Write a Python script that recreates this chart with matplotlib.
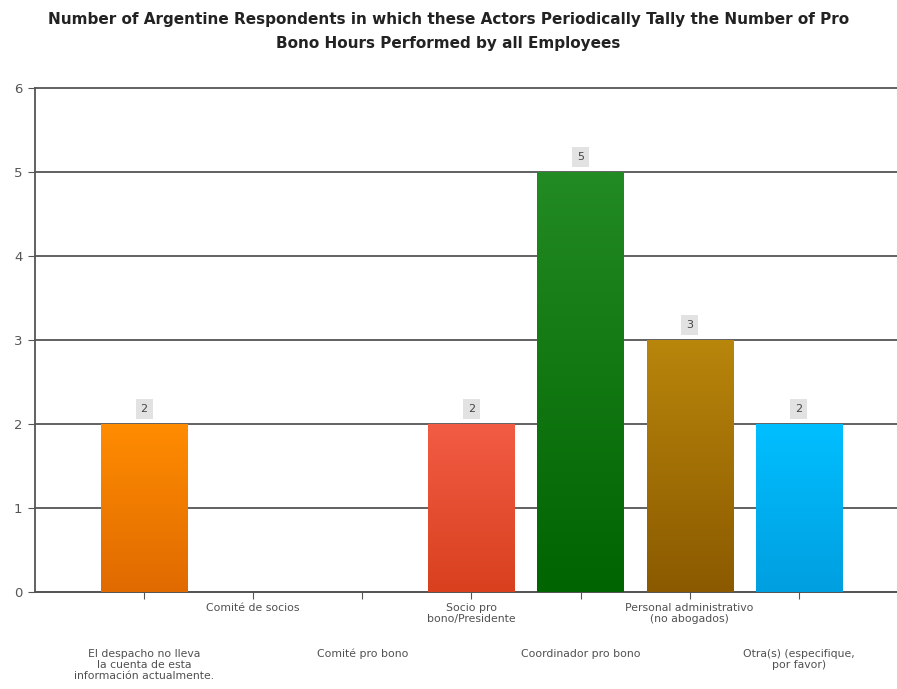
import numpy as np
import matplotlib.pyplot as plt
import matplotlib.colors as mcolors

plt.rcParams['font.family'] = ['DejaVu Sans']

# data
categories = ['El despacho no lleva\nla cuenta de esta\ninformación actualmente.',
              'Comité de socios',
              'Comité pro bono',
              'Socio pro\nbono/Presidente',
              'Coordinador pro bono',
              'Personal administrativo\n(no abogados)',
              'Otra(s) (especifique,\npor favor)']
values = [2, 0, 0, 2, 5, 3, 2]
# gradient colours (top, bottom)
top_colors = ['#ff8c00', '#ff8c00', '#ff8c00', '#f25c44', '#238b23', '#b8860b', '#00bfff']
bottom_colors = ['#e06a00', '#e06a00', '#e06a00', '#d8401e', '#006400', '#8b5a00', '#009fe0']

fig = plt.figure(figsize=(8.97, 6.89), dpi=100)
ax = fig.add_axes([35/897, 97/689, 1 - 35/897, (592-88)/689])

x = np.arange(len(categories))
bars = ax.bar(x, values, width=0.79, color='none', zorder=3)

# gradient fill clipped to each bar
for b, c1, c2 in zip(bars, top_colors, bottom_colors):
    if b.get_height() == 0:
        continue
    cmap = mcolors.LinearSegmentedColormap.from_list('g', [c2, c1])
    grad = np.linspace(0, 1, 256).reshape(-1, 1)
    im = ax.imshow(grad, cmap=cmap, aspect='auto', origin='lower',
                   extent=[b.get_x(), b.get_x() + b.get_width(), 0, b.get_height()],
                   zorder=3)
    im.set_clip_path(b)

# value labels
for xi, v in zip(x, values):
    if v == 0:
        continue
    ax.annotate(str(v), (xi, v), xytext=(0, 7), textcoords='offset points',
                ha='center', va='bottom', fontsize=8, color='#444444', zorder=4,
                bbox=dict(boxstyle='square,pad=0.45', fc='#e2e2e2', ec='none'))

ax.set_xlim(-1, 6.9)
ax.set_ylim(0, 6)
ax.set_yticks(range(7))
ax.yaxis.grid(True, color='#555555', linewidth=1.3, zorder=0)
for gl in ax.get_ygridlines():
    gl.set_clip_on(False)
ax.set_axisbelow(True)

ax.set_xticks(x)
ax.set_xticklabels(categories, fontsize=7.8, color='#505050', linespacing=1.1)
for i, t in enumerate(ax.xaxis.get_major_ticks()):
    t.set_pad(3 if i % 2 == 1 else 36)

ax.tick_params(axis='x', length=5, color='#555555')
ax.tick_params(axis='y', length=5, color='#555555', labelsize=9.5, labelcolor='#555555', pad=4)

for s in ['top', 'right']:
    ax.spines[s].set_visible(False)
ax.spines['left'].set_color('#555555')
ax.spines['bottom'].set_color('#555555')
ax.spines['left'].set_linewidth(1.3)
ax.spines['bottom'].set_linewidth(1.3)

fig.suptitle('Number of Argentine Respondents in which these Actors Periodically Tally the Number of Pro\n'
             'Bono Hours Performed by all Employees',
             x=0.5, y=0.983, fontsize=11, fontweight='bold', color='#222222', linespacing=1.8)

fig.savefig('out.png', dpi=100)
